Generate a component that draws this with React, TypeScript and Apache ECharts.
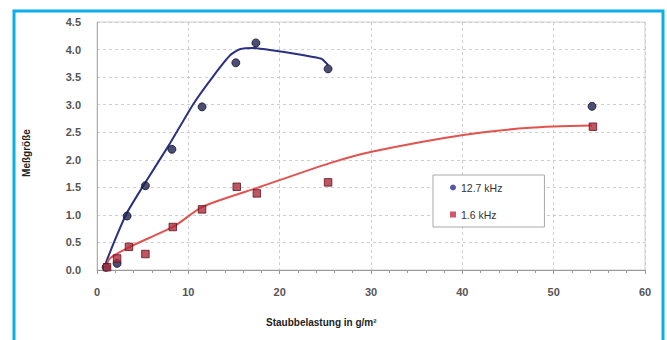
import React, { useEffect, useRef } from "react";
import * as echarts from "echarts";

const xTicks = [0, 10, 20, 30, 40, 50, 60];
const yTicks = [0, 0.5, 1, 1.5, 2, 2.5, 3, 3.5, 4, 4.5];

const seriesNames = ["12.7 kHz", "1.6 kHz"];

const blue127: number[][] = [
  [1.0, 0.05], [2.2, 0.12], [3.3, 0.98], [5.3, 1.53], [8.2, 2.19],
  [11.5, 2.96], [15.2, 3.76], [17.4, 4.12], [25.3, 3.65], [54.2, 2.97],
];
const red16: number[][] = [
  [1.1, 0.05], [2.2, 0.21], [3.5, 0.42], [5.3, 0.29], [8.3, 0.78],
  [11.5, 1.1], [15.3, 1.51], [17.5, 1.39], [25.3, 1.59], [54.3, 2.6],
];
const blueTrend: number[][] = [
  [0.9, 0.1], [1.8, 0.48], [3.25, 1.03], [5.26, 1.58], [8.0, 2.3],
  [10.5, 3.0], [12.7, 3.51], [14.6, 3.9], [15.7, 4.01], [17.1, 4.03],
  [19.5, 3.98], [21.5, 3.93], [23.5, 3.87], [24.6, 3.83], [25.3, 3.72],
];
const redTrend: number[][] = [
  [1.0, 0.05], [1.4, 0.21], [3.6, 0.42], [8.4, 0.79], [11.6, 1.15],
  [17.9, 1.51], [25.5, 1.94], [30.2, 2.15], [40.1, 2.45], [47.4, 2.58],
  [54.2, 2.62],
];

export default function App() {
  const ref = useRef<HTMLDivElement>(null);
  useEffect(() => {
    if (!ref.current) return;
    const chart = echarts.init(ref.current, undefined, { renderer: "svg" });
    const font = "Liberation Sans, Arial, sans-serif";
    chart.setOption({
      animation: false,
      backgroundColor: "#ffffff",
      grid: {
        left: 97,
        top: 22,
        right: 22,
        bottom: 70,
        show: true,
        borderColor: "#d0d0d0",
        borderWidth: 1,
      },
      xAxis: {
        type: "value",
        min: xTicks[0],
        max: xTicks[xTicks.length - 1],
        interval: 10,
        axisLine: { show: true, lineStyle: { color: "#9a9a9a", width: 1 } },
        axisTick: { show: true, length: 4, lineStyle: { color: "#9a9a9a" } },
        minorTick: { show: true, splitNumber: 5, length: 3, lineStyle: { color: "#9a9a9a" } },
        splitLine: { show: true, lineStyle: { color: "#cfcfcf", type: [3, 3] } },
        axisLabel: {
          color: "#555",
          fontFamily: font,
          fontSize: 11,
          fontWeight: "bold",
          margin: 16,
        },
      },
      yAxis: {
        type: "value",
        min: yTicks[0],
        max: yTicks[yTicks.length - 1],
        interval: 0.5,
        axisLine: { show: true, lineStyle: { color: "#b0b0b0", width: 1 } },
        axisTick: { show: false },
        splitLine: { show: true, lineStyle: { color: "#cfcfcf", type: [3, 3] } },
        axisLabel: {
          color: "#555",
          fontFamily: font,
          fontSize: 11,
          fontWeight: "bold",
          margin: 16,
          formatter: (v: number) => v.toFixed(1),
        },
      },
      legend: {
        show: true,
        data: [
          { name: seriesNames[0], icon: "circle", itemStyle: { color: "#2b2d8c", borderWidth: 0 } },
          { name: seriesNames[1], icon: "rect", itemStyle: { color: "#c23046", borderWidth: 0 } },
        ],
        orient: "vertical",
        left: 433,
        top: 175,
        width: 119,
        itemWidth: 6,
        itemHeight: 6,
        itemGap: 16,
        padding: [7, 42, 7, 17],
        borderColor: "#a8a8a8",
        borderWidth: 1,
        backgroundColor: "#ffffff",
        textStyle: { color: "#333", fontFamily: font, fontSize: 10.5 },
      },
      graphic: [
        {
          type: "text",
          left: 344 - 78,
          top: 317,
          style: {
            text: "Staubbelastung in g/m²",
            fontFamily: font,
            fontSize: 10,
            fontWeight: "bold",
            fill: "#222",
          },
        },
        {
          type: "text",
          x: 26,
          y: 153,
          rotation: Math.PI / 2,
          style: {
            text: "Meßgröße",
            fontFamily: font,
            fontSize: 10,
            fontWeight: "bold",
            fill: "#222",
            align: "center",
            verticalAlign: "middle",
          },
        },
        {
          type: "polyline",
          shape: { points: [[14, 340], [14, 11], [663, 11], [663, 340]] },
          style: { stroke: "#0aaeea", lineWidth: 3, fill: "none" },
          z: 100,
        },
      ],
      series: [
        {
          type: "line",
          data: blueTrend,
          smooth: 0.18,
          showSymbol: false,
          symbol: "none",
          lineStyle: { color: "#2c3080", width: 2 },
          silent: true,
          z: 2,
        },
        {
          type: "line",
          data: redTrend,
          smooth: 0.25,
          showSymbol: false,
          symbol: "none",
          lineStyle: { color: "#e2524f", width: 2 },
          silent: true,
          z: 2,
        },
        {
          name: seriesNames[0],
          type: "scatter",
          data: blue127,
          symbol: "circle",
          symbolSize: 8,
          itemStyle: { color: "#1f2250", borderColor: "#11132c", borderWidth: 1 },
          z: 5,
        },
        {
          name: seriesNames[1],
          type: "scatter",
          data: red16,
          symbol: "rect",
          symbolSize: 7.5,
          itemStyle: { color: "#b02a3c", borderColor: "#5a1520", borderWidth: 1 },
          z: 5,
        },
      ],
    });
    return () => chart.dispose();
  }, []);
  return (
    <div
      ref={ref}
      style={{ position: "fixed", left: 0, top: 0, width: 667, height: 340 }}
    />
  );
}
